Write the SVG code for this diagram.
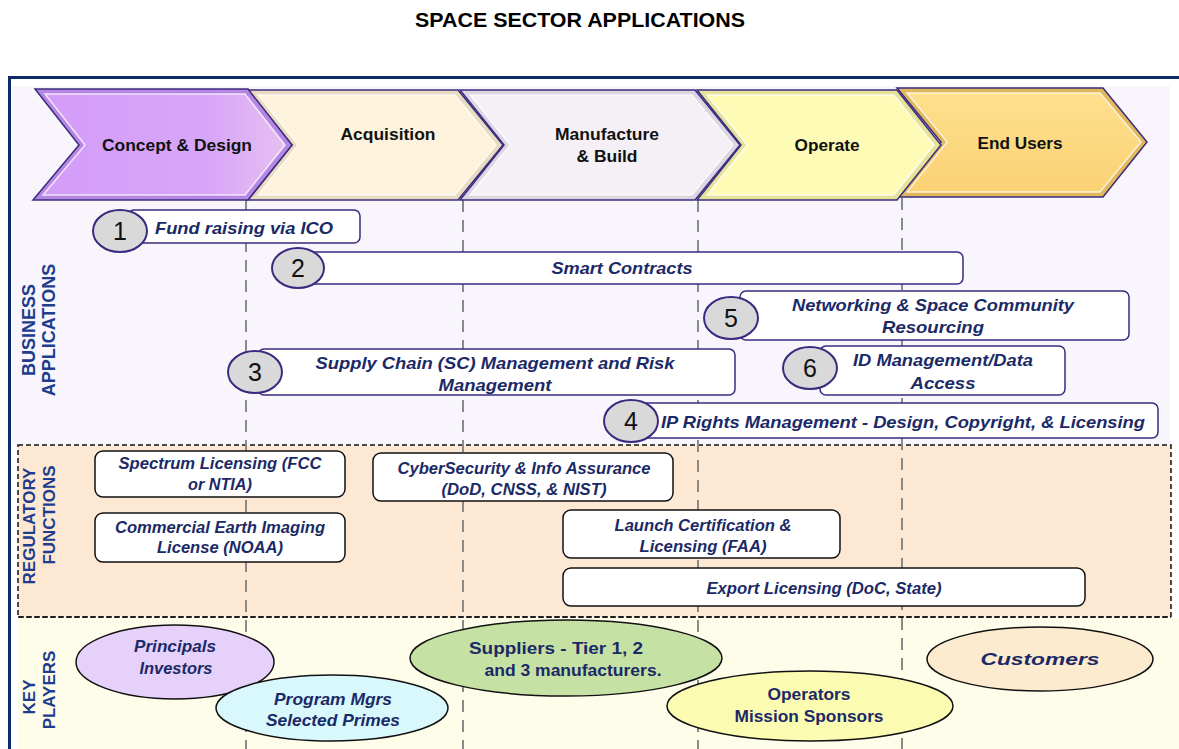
<svg xmlns="http://www.w3.org/2000/svg" width="1179" height="749" viewBox="0 0 1179 749">
<defs>
<style>
.t{font-family:"Liberation Sans",Arial,sans-serif;}
.title{font-family:"Liberation Sans",Arial,sans-serif;font-weight:bold;font-size:21px;fill:#000;}
.chev{stroke:#3b2c7e;stroke-width:1.5;stroke-linejoin:miter;}
.bev{stroke:#ffffff;stroke-opacity:0.75;stroke-width:1.5;}
.ct{font-family:"Liberation Sans",Arial,sans-serif;font-weight:bold;font-size:17px;fill:#111;text-anchor:middle;}
.box{fill:#ffffff;stroke:#3b2a80;stroke-width:1.5;}
.num{fill:#d9d9d9;stroke:#3b2a80;stroke-width:2;}
.nt{font-family:"Liberation Sans",Arial,sans-serif;font-size:25px;fill:#111;text-anchor:middle;}
.bt{font-family:"Liberation Sans",Arial,sans-serif;font-weight:bold;font-style:italic;font-size:17px;fill:#1b2a66;text-anchor:middle;}
.reg{fill:#ffffff;stroke:#111;stroke-width:1.5;}
.rt{font-family:"Liberation Sans",Arial,sans-serif;font-weight:bold;font-style:italic;font-size:16px;fill:#1b2a66;text-anchor:middle;}
.pt{font-family:"Liberation Sans",Arial,sans-serif;font-weight:bold;font-size:17px;fill:#1b2a66;text-anchor:middle;}
.pti{font-style:italic;}
.ell{stroke:#111;stroke-width:1.5;}
.side{font-family:"Liberation Sans",Arial,sans-serif;font-weight:bold;font-size:18px;fill:#203c8c;text-anchor:middle;}
.guide{stroke:#8a8a8a;stroke-width:2;stroke-dasharray:12 8;fill:none;}
</style>
<linearGradient id="g1" x1="0" y1="0" x2="1" y2="0">
<stop offset="0" stop-color="#d39cf8"/><stop offset="0.7" stop-color="#d8a6f8"/><stop offset="1" stop-color="#e6c0f0"/>
</linearGradient>
<linearGradient id="g5" x1="0" y1="0" x2="0" y2="1">
<stop offset="0" stop-color="#fde08e"/><stop offset="1" stop-color="#fbd174"/>
</linearGradient>
</defs>

<!-- backgrounds -->
<rect x="0" y="0" width="1179" height="749" fill="#ffffff"/>
<rect x="12" y="86" width="1158" height="359" fill="#f8f5fd"/>
<rect x="18" y="445" width="1153" height="172" fill="#fde8d4" stroke="#111" stroke-width="1.5" stroke-dasharray="5 3"/>
<rect x="18" y="618" width="1161" height="131" fill="#fefdea"/>
<line x1="18" y1="617" x2="1171" y2="617" stroke="#111" stroke-width="1.5" stroke-dasharray="5 3"/>
<rect x="8" y="76" width="1171" height="3" fill="#0b2a66"/>
<rect x="8" y="76" width="3" height="673" fill="#0b2a66"/>

<text class="title" x="580" y="27" text-anchor="middle" textLength="330" lengthAdjust="spacingAndGlyphs">SPACE SECTOR APPLICATIONS</text>

<!-- guides -->
<g id="connectors">
<line class="guide" x1="246" y1="200" x2="246" y2="749"/>
<line class="guide" x1="463" y1="200" x2="463" y2="749"/>
<line class="guide" x1="698" y1="200" x2="698" y2="749"/>
<line class="guide" x1="902" y1="198" x2="902" y2="749"/>
</g>

<!-- chevrons -->
<g id="stage-end-users">
<polygon class="chev" points="897,88 1103,88 1147,142 1103,197 897,197 941,142" fill="#e2b85c"/>
<polygon class="bev" points="907,93 1100,93 1141,142 1100,192 907,192 947,142" fill="url(#g5)"/>
<text class="ct" x="1020" y="149" textLength="85" lengthAdjust="spacingAndGlyphs">End Users</text>
</g>
<g id="stage-operate">
<polygon class="chev" points="697,90 897,90 941,145 897,200 697,200 741,145" fill="#e6e29a"/>
<polygon class="bev" points="707,95 894,95 934,145 894,195 707,195 747,145" fill="#fdfbb6"/>
<text class="ct" x="827" y="151" textLength="65" lengthAdjust="spacingAndGlyphs">Operate</text>
</g>
<g id="stage-manufacture">
<polygon class="chev" points="460,90 695,90 740,145 695,200 460,200 504,145" fill="#dcd6e2"/>
<polygon class="bev" points="470,95 692,95 733,145 692,195 470,195 510,145" fill="#f5f0f6"/>
<text class="ct" x="607" y="140" textLength="104" lengthAdjust="spacingAndGlyphs">Manufacture</text>
<text class="ct" x="607" y="162" textLength="61" lengthAdjust="spacingAndGlyphs">&amp; Build</text>
</g>
<g id="stage-acquisition">
<polygon class="chev" points="248,90 458,90 503,145 458,200 248,200 292,145" fill="#e8dbc0"/>
<polygon class="bev" points="258,95 455,95 496,145 455,195 258,195 298,145" fill="#fdf3dc"/>
<text class="ct" x="388" y="140" textLength="95" lengthAdjust="spacingAndGlyphs">Acquisition</text>
</g>
<g id="stage-concept">
<polygon class="chev" points="35,89 248,89 292,145 248,200 33,200 79,145" fill="#b686e4"/>
<polygon class="bev" points="45,94 245,94 285,145 245,195 43,195 85,145" fill="url(#g1)"/>
<text class="ct" x="177" y="151" textLength="150" lengthAdjust="spacingAndGlyphs">Concept &amp; Design</text>
</g>

<!-- side labels -->
<g id="label-business">
<text class="side" transform="translate(35,330) rotate(-90)">BUSINESS</text>
<text class="side" transform="translate(55,330) rotate(-90)">APPLICATIONS</text>
</g>
<g id="label-regulatory">
<text class="side" style="font-size:17px" transform="translate(35,526) rotate(-90)">REGULATORY</text>
<text class="side" style="font-size:17px" transform="translate(55,515) rotate(-90)">FUNCTIONS</text>
</g>
<g id="label-players">
<text class="side" style="font-size:17px" transform="translate(35,697) rotate(-90)">KEY</text>
<text class="side" style="font-size:17px" transform="translate(55,690) rotate(-90)">PLAYERS</text>
</g>

<!-- business applications -->
<g id="app-1">
<rect class="box" x="128" y="210" width="232" height="33" rx="6"/>
<ellipse class="num" cx="120" cy="231" rx="27" ry="21"/>
<text class="nt" x="120" y="240">1</text>
<text class="bt" x="244" y="234" textLength="178" lengthAdjust="spacingAndGlyphs">Fund raising via ICO</text>
</g>
<g id="app-2">
<rect class="box" x="300" y="252" width="663" height="32" rx="6"/>
<ellipse class="num" cx="298" cy="268" rx="26" ry="20"/>
<text class="nt" x="298" y="277">2</text>
<text class="bt" x="622" y="274" textLength="141" lengthAdjust="spacingAndGlyphs">Smart Contracts</text>
</g>
<g id="app-5">
<rect class="box" x="740" y="291" width="389" height="49" rx="6"/>
<ellipse class="num" cx="731" cy="318" rx="27" ry="21"/>
<text class="nt" x="731" y="327">5</text>
<text class="bt" x="933" y="311" textLength="282" lengthAdjust="spacingAndGlyphs">Networking &amp; Space Community</text>
<text class="bt" x="933" y="333" textLength="102" lengthAdjust="spacingAndGlyphs">Resourcing</text>
</g>
<g id="app-3">
<rect class="box" x="258" y="349" width="477" height="46" rx="6"/>
<ellipse class="num" cx="255" cy="372" rx="27" ry="21"/>
<text class="nt" x="255" y="381">3</text>
<text class="bt" x="495" y="369" textLength="359" lengthAdjust="spacingAndGlyphs">Supply Chain (SC) Management and Risk</text>
<text class="bt" x="495" y="391" textLength="113" lengthAdjust="spacingAndGlyphs">Management</text>
</g>
<g id="app-6">
<rect class="box" x="820" y="346" width="245" height="49" rx="6"/>
<ellipse class="num" cx="810" cy="368" rx="27" ry="21"/>
<text class="nt" x="810" y="377">6</text>
<text class="bt" x="943" y="366" textLength="180" lengthAdjust="spacingAndGlyphs">ID Management/Data</text>
<text class="bt" x="943" y="389" textLength="65" lengthAdjust="spacingAndGlyphs">Access</text>
</g>
<g id="app-4">
<rect class="box" x="632" y="403" width="526" height="35" rx="6"/>
<ellipse class="num" cx="631" cy="421" rx="27" ry="21"/>
<text class="nt" x="631" y="430">4</text>
<text class="bt" x="903" y="428" textLength="484" lengthAdjust="spacingAndGlyphs">IP Rights Management - Design, Copyright, &amp; Licensing</text>
</g>

<!-- regulatory functions -->
<g id="reg-spectrum">
<rect class="reg" x="95" y="451" width="250" height="46" rx="8"/>
<text class="rt" x="220" y="469" textLength="203" lengthAdjust="spacingAndGlyphs">Spectrum Licensing (FCC</text>
<text class="rt" x="220" y="490" textLength="64" lengthAdjust="spacingAndGlyphs">or NTIA)</text>
</g>
<g id="reg-imaging">
<rect class="reg" x="95" y="513" width="250" height="49" rx="8"/>
<text class="rt" x="220" y="533" textLength="210" lengthAdjust="spacingAndGlyphs">Commercial Earth Imaging</text>
<text class="rt" x="220" y="553" textLength="126" lengthAdjust="spacingAndGlyphs">License (NOAA)</text>
</g>
<g id="reg-cyber">
<rect class="reg" x="373" y="453" width="300" height="48" rx="8"/>
<text class="rt" x="524" y="474" textLength="253" lengthAdjust="spacingAndGlyphs">CyberSecurity &amp; Info Assurance</text>
<text class="rt" x="524" y="495" textLength="165" lengthAdjust="spacingAndGlyphs">(DoD, CNSS, &amp; NIST)</text>
</g>
<g id="reg-launch">
<rect class="reg" x="563" y="510" width="277" height="48" rx="8"/>
<text class="rt" x="703" y="531" textLength="177" lengthAdjust="spacingAndGlyphs">Launch Certification &amp;</text>
<text class="rt" x="703" y="552" textLength="127" lengthAdjust="spacingAndGlyphs">Licensing (FAA)</text>
</g>
<g id="reg-export">
<rect class="reg" x="563" y="568" width="522" height="38" rx="8"/>
<text class="rt" x="824" y="594" textLength="235" lengthAdjust="spacingAndGlyphs">Export Licensing (DoC, State)</text>
</g>

<!-- key players -->
<g id="player-principals">
<ellipse class="ell" cx="175" cy="662" rx="99" ry="37" fill="#e6d1fb"/>
<text class="pt pti" x="175" y="652" textLength="82" lengthAdjust="spacingAndGlyphs">Principals</text>
<text class="pt pti" x="176" y="674" textLength="73" lengthAdjust="spacingAndGlyphs">Investors</text>
</g>
<g id="player-suppliers">
<ellipse class="ell" cx="566" cy="658" rx="156" ry="38" fill="#c6e1a4"/>
<text class="pt" x="556" y="654" textLength="174" lengthAdjust="spacingAndGlyphs">Suppliers - Tier 1, 2</text>
<text class="pt" x="573" y="676" textLength="177" lengthAdjust="spacingAndGlyphs">and 3 manufacturers.</text>
</g>
<g id="player-program">
<ellipse class="ell" cx="332" cy="708" rx="116" ry="33" fill="#d9f8fc"/>
<text class="pt pti" x="333" y="705" textLength="118" lengthAdjust="spacingAndGlyphs">Program Mgrs</text>
<text class="pt pti" x="333" y="726" textLength="134" lengthAdjust="spacingAndGlyphs">Selected Primes</text>
</g>
<g id="player-operators">
<ellipse class="ell" cx="810" cy="706" rx="143" ry="35" fill="#fcfbb2"/>
<text class="pt" x="809" y="700" textLength="83" lengthAdjust="spacingAndGlyphs">Operators</text>
<text class="pt" x="809" y="722" textLength="149" lengthAdjust="spacingAndGlyphs">Mission Sponsors</text>
</g>
<g id="player-customers">
<ellipse class="ell" cx="1040" cy="659" rx="113" ry="32" fill="#fdebd0"/>
<text class="pt pti" x="1040" y="665" textLength="119" lengthAdjust="spacingAndGlyphs">Customers</text>
</g>
</svg>
